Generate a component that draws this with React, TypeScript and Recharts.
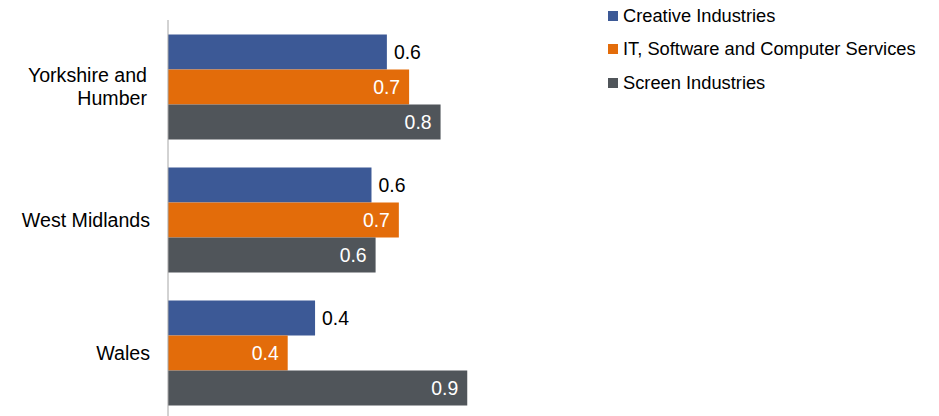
import React from "react";
import { BarChart, Bar, XAxis, YAxis, Legend, LabelList } from "recharts";

const regions = ["Yorkshire and Humber", "West Midlands", "Wales"];
const creativeIndustries = [0.64, 0.595, 0.43];
const itSoftware = [0.705, 0.675, 0.35];
const screenIndustries = [0.797, 0.607, 0.875];

const seriesNames = [
  "Creative Industries",
  "IT, Software and Computer Services",
  "Screen Industries",
];
const seriesKeys = ["creative", "it", "screen"];
const seriesColors = ["#3C5996", "#E36C0A", "#50555A"];

const data = regions.map((region, i) => ({
  region,
  creative: creativeIndustries[i],
  it: itSoftware[i],
  screen: screenIndustries[i],
}));

const FONT = "'Liberation Sans', Arial, sans-serif";

const fmt = (v: any) => (Math.round(Number(v) * 10) / 10).toFixed(1);

// wrap long category names onto two lines, right aligned
const RegionTick = (props: any) => {
  const { x, y, payload } = props;
  const words = String(payload.value).split(" ");
  const lines: string[] = [];
  let cur = "";
  words.forEach((w) => {
    const next = cur ? cur + " " + w : w;
    if (next.length > 14 && cur) {
      lines.push(cur);
      cur = w;
    } else {
      cur = next;
    }
  });
  if (cur) lines.push(cur);
  const lh = 22.5;
  const shift = lines.length > 1 ? -3 : 0;
  return (
    <text
      x={x + shift}
      y={y}
      textAnchor="end"
      fill="#000"
      fontSize={19.6}
      fontFamily={FONT}
    >
      {lines.map((line, i) => (
        <tspan
          key={i}
          x={x + shift}
          y={y + (i - (lines.length - 1) / 2) * lh}
          dy="0.36em"
        >
          {line}
        </tspan>
      ))}
    </text>
  );
};

const renderLegend = () => (
  <div style={{ fontFamily: FONT, fontSize: 18.3, color: "#000" }}>
    {seriesNames.map((name, i) => (
      <div
        key={name}
        style={{ display: "flex", alignItems: "center", height: 33.5 }}
      >
        <span
          style={{
            display: "inline-block",
            width: 10,
            height: 10,
            background: seriesColors[i],
            marginRight: 5,
          }}
        />
        <span>{name}</span>
      </div>
    ))}
  </div>
);

export default function App() {
  return (
    <div
      style={{
        position: "absolute",
        top: 0,
        left: 0,
        width: 939,
        height: 416,
        overflow: "hidden",
        background: "#fff",
      }}
    >
      <BarChart
        width={939}
        height={430}
        layout="vertical"
        data={data}
        margin={{ top: 20, right: 429, bottom: 11, left: 0 }}
        barCategoryGap={14.5}
        barGap={0}
        style={{ fontFamily: FONT }}
      >
        <XAxis type="number" domain={[0, 1]} hide />
        <YAxis
          type="category"
          dataKey="region"
          width={168}
          axisLine={{ stroke: "#A6A6A6" }}
          tickLine={false}
          tickSize={0}
          tickMargin={18}
          tick={<RegionTick />}
        />
        <Legend
          layout="vertical"
          align="center"
          verticalAlign="middle"
          content={renderLegend}
          wrapperStyle={{ left: 608, top: -1, width: 330 }}
        />
        {seriesKeys.map((key, i) => (
          <Bar
            key={key}
            dataKey={key}
            name={seriesNames[i]}
            fill={seriesColors[i]}
            isAnimationActive={false}
          >
            {i === 0 ? (
              <LabelList
                dataKey={key}
                position="right"
                offset={7}
                formatter={fmt}
                fill="#000"
                fontSize={19.4}
                fontFamily={FONT}
              />
            ) : (
              <LabelList
                dataKey={key}
                position="insideRight"
                offset={9}
                formatter={fmt}
                fill="#fff"
                fontSize={19.4}
                fontFamily={FONT}
              />
            )}
          </Bar>
        ))}
      </BarChart>
    </div>
  );
}
